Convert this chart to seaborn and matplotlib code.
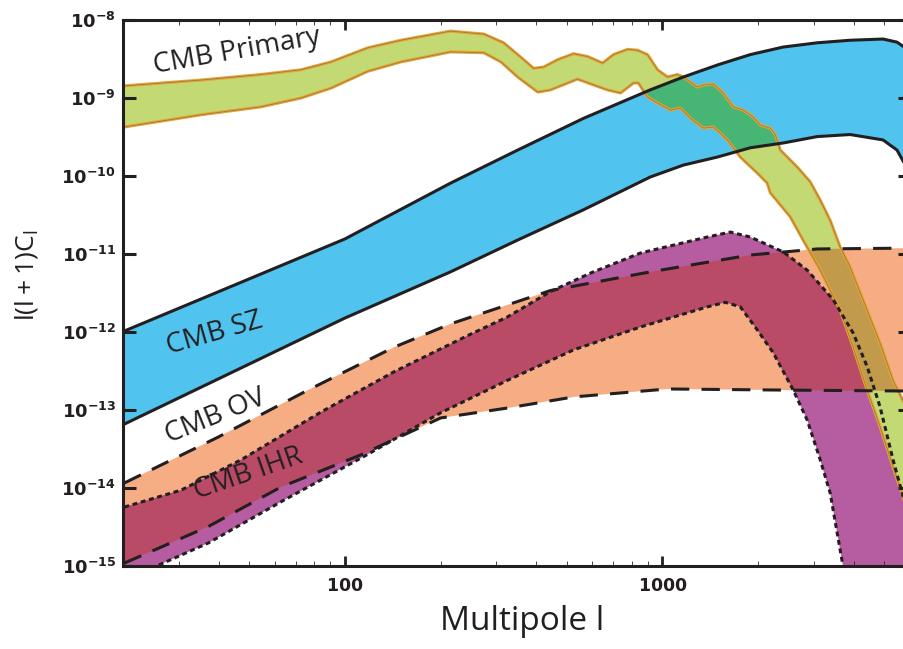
import matplotlib
matplotlib.use('Agg')
import matplotlib.pyplot as plt
from matplotlib.path import Path
from matplotlib.ticker import LogLocator, NullLocator, NullFormatter
import numpy as np
import seaborn as sns

# ---- data: multipole l and l(l+1)C_l ----

# CMB primary (green band), upper and lower edges
primary_l_hi = [20.2, 35.3, 54.4, 72.7, 90.4, 118, 150, 215, 274, 316, 350, 393, 423, 468,
                525, 581, 648, 701, 776, 834, 897, 965, 1037, 1115, 1164, 1289, 1346, 1447,
                1555, 1672, 1798, 1933, 2033, 2186, 2266, 2350, 2658, 2920, 3140, 3375, 3628,
                3901, 4413, 4848, 5325, 5768, 6248]
primary_hi = [1.43e-9, 1.7e-9, 2.0e-9, 2.3e-9, 2.9e-9, 4.4e-9, 5.5e-9, 7.2e-9, 6.6e-9, 5.1e-9,
              3.6e-9, 2.4e-9, 2.5e-9, 3.1e-9, 3.7e-9, 3.4e-9, 2.8e-9, 3.6e-9, 4.2e-9, 4.1e-9,
              3.6e-9, 2.3e-9, 1.86e-9, 2.0e-9, 1.86e-9, 1.38e-9, 1.47e-9, 1.51e-9, 1.16e-9,
              7.7e-10, 7.0e-10, 5.7e-10, 4.5e-10, 4.1e-10, 3.4e-10, 2.15e-10, 1.3e-10, 8.4e-11,
              4.9e-11, 2.7e-11, 1.23e-11, 6.8e-12, 1.9e-12, 7.2e-13, 2.4e-13, 1.23e-13, 6.2e-14]
primary_l_lo = [20.2, 35.3, 54.4, 72.7, 90.4, 118, 150, 215, 274, 310, 350, 405, 444, 540,
                607, 671, 738, 811, 840, 897, 965, 1060, 1139, 1225, 1346, 1447, 1601, 1759,
                1990, 2139, 2186, 2526, 2776, 3140, 3628, 3987, 4413, 4848, 5325, 5768, 6248]
primary_lo = [4.25e-10, 6.1e-10, 7.7e-10, 1.0e-9, 1.34e-9, 2.2e-9, 2.9e-9, 3.9e-9, 3.8e-9,
              2.9e-9, 1.86e-9, 1.19e-9, 1.27e-9, 1.75e-9, 1.47e-9, 1.27e-9, 1.16e-9, 1.56e-9,
              1.56e-9, 1.03e-9, 8.6e-10, 7.0e-10, 7.4e-10, 5.5e-10, 4.1e-10, 4.25e-10, 2.9e-10,
              1.75e-10, 1.09e-10, 8.1e-11, 6.1e-11, 3.0e-11, 1.5e-11, 6.2e-12, 1.9e-12, 6.4e-13,
              1.8e-13, 6.1e-14, 1.86e-14, 7.0e-15, 2.65e-15]

# CMB SZ (blue band)
sz_l = [20.2, 100, 215, 350, 565, 915, 1164, 1490, 1891, 2400, 3072, 3900, 4950, 5480, 5770,
        6000, 6250]
sz_hi = [1.03e-12, 1.56e-11, 8.1e-11, 2.15e-10, 5.5e-10, 1.27e-9, 1.86e-9, 2.65e-9, 3.6e-9,
         4.5e-9, 5.1e-9, 5.5e-9, 5.7e-9, 5.2e-9, 4.5e-9, 3.6e-9, 2.3e-9]
sz_lo = [6.6e-14, 1.51e-12, 5.9e-12, 1.51e-11, 3.7e-11, 9.7e-11, 1.38e-10, 1.75e-10, 2.3e-10,
         2.65e-10, 3.2e-10, 3.4e-10, 2.9e-10, 2.15e-10, 1.47e-10, 9.4e-11, 4.9e-11]

# CMB OV (salmon band, dashed edges)
ov_l_hi = [20.2, 39.9, 76.5, 143, 215, 444, 916, 1891, 3072, 5986, 6248]
ov_hi = [1.16e-14, 4.5e-14, 1.8e-13, 6.4e-13, 1.27e-12, 3.4e-12, 5.9e-12, 9.7e-12, 1.16e-11,
         1.19e-11, 1.19e-11]
ov_l_lo = [20.2, 37.1, 62.9, 112, 200, 325, 525, 1037, 2404, 5986, 6248]
ov_lo = [1.09e-15, 3.2e-15, 1.03e-14, 2.65e-14, 7.9e-14, 1.06e-13, 1.47e-13, 1.86e-13, 1.8e-13,
         1.75e-13, 1.75e-13]

# CMB IHR (purple band, dotted edges)
ihr_l_hi = [20.2, 30.5, 47.1, 84.0, 143, 249, 325, 444, 594, 853, 1385, 1636, 1891, 2404,
            2858, 3449, 3987, 4413, 4848, 5325, 5768, 6248, 6965]
ihr_hi = [5.7e-15, 9.4e-15, 2.3e-14, 9.4e-14, 3.1e-13, 9.4e-13, 1.56e-12, 3.3e-12, 5.7e-12,
          1.03e-11, 1.65e-11, 1.91e-11, 1.65e-11, 1.06e-11, 6.2e-12, 2.6e-12, 9.7e-13,
          3.6e-13, 1.09e-13, 2.3e-14, 7.0e-15, 1.86e-15, 2.0e-16]
ihr_l_lo = [20.2, 25.1, 37.1, 64.3, 116, 200, 325, 525, 853, 1385, 1578, 1759, 1990, 2234,
            2582, 2858, 3140, 3375, 3708, 3901]
ihr_lo = [4.9e-16, 9.7e-16, 1.97e-15, 7.0e-15, 2.6e-14, 9.2e-14, 2.4e-13, 5.9e-13, 1.16e-12,
          2.1e-12, 2.4e-12, 2.1e-12, 1.06e-12, 5.4e-13, 1.8e-13, 7.4e-14, 2.3e-14, 8.6e-15,
          9.7e-16, 3.7e-16]

band_names = ['CMB Primary', 'CMB SZ', 'CMB OV', 'CMB IHR']
x_ticks = [100, 1000]
x_ticklabels = [r'$\mathbf{100}$', r'$\mathbf{1000}$']
y_ticks = [1e-15, 1e-14, 1e-13, 1e-12, 1e-11, 1e-10, 1e-9, 1e-8]
y_ticklabels = [r'$\mathbf{10^{-15}}$', r'$\mathbf{10^{-14}}$', r'$\mathbf{10^{-13}}$',
                r'$\mathbf{10^{-12}}$', r'$\mathbf{10^{-11}}$', r'$\mathbf{10^{-10}}$',
                r'$\mathbf{10^{-9}}$', r'$\mathbf{10^{-8}}$']

# colours
INK = '#231F20'
GREEN = '#C3D974'
ORANGE = '#EEA22A'
BLUE = '#50C4EF'
SALMON = '#F6AD84'
PURPLE = '#B65CA0'
MAROON = '#B94B66'
DARKGREEN = '#47B574'
TAN = '#C19B4B'


def band_polygon(l_hi, hi, l_lo, lo):
    return list(l_hi) + list(l_lo)[::-1], list(hi) + list(lo)[::-1]


def edge(ax, x, y, **kw):
    sns.lineplot(x=x, y=y, ax=ax, sort=False, estimator=None, **kw)


def make_figure(tier=0):
    plt.rcdefaults()
    sns.set_style('ticks', {'xtick.direction': 'in', 'ytick.direction': 'in',
                            'xtick.top': True, 'ytick.right': True,
                            'axes.axisbelow': False})
    plt.rcParams['font.family'] = ['Open Sans', 'DejaVu Sans']
    plt.rcParams['mathtext.fontset'] = 'custom'
    plt.rcParams['mathtext.rm'] = 'Open Sans'
    plt.rcParams['mathtext.bf'] = 'DejaVu Sans:bold'
    plt.rcParams['xtick.major.size'] = 7
    plt.rcParams['xtick.minor.size'] = 3.5
    plt.rcParams['ytick.major.size'] = 9
    plt.rcParams['ytick.minor.size'] = 0

    fig = plt.figure(figsize=(9.04, 6.49), dpi=100)
    ax = fig.add_axes([0.1361, 0.1279, 0.870, 0.8413])
    ax.set_xscale('log')
    ax.set_yscale('log')

    ov_x, ov_y = band_polygon(ov_l_hi, ov_hi, ov_l_lo, ov_lo)
    ihr_x, ihr_y = band_polygon(ihr_l_hi, ihr_hi, ihr_l_lo, ihr_lo)
    sz_x, sz_y = band_polygon(sz_l, sz_hi, sz_l, sz_lo)
    pr_x, pr_y = band_polygon(primary_l_hi, primary_hi, primary_l_lo, primary_lo)

    ax.fill(ov_x, ov_y, color=SALMON, lw=0, zorder=1.0)
    ax.fill(ihr_x, ihr_y, color=PURPLE, lw=0, zorder=1.1)
    ax.fill(sz_x, sz_y, color=BLUE, lw=0, zorder=1.3)
    ax.fill(pr_x, pr_y, color=GREEN, lw=0, zorder=1.4)

    # overlaps: the same band again, clipped to the band underneath
    if tier < 2:
        ov_clip = Path(np.column_stack([ov_x, ov_y]))
        sz_clip = Path(np.column_stack([sz_x, sz_y]))
        both, = ax.fill(ihr_x, ihr_y, color=MAROON, lw=0, zorder=1.2)
        both.set_clip_path(ov_clip, ax.transData)
        g1, = ax.fill(pr_x, pr_y, color=DARKGREEN, lw=0, zorder=1.5)
        g1.set_clip_path(sz_clip, ax.transData)
        if tier < 1:
            g2, = ax.fill(pr_x, pr_y, color=TAN, lw=0, zorder=1.5)
            g2.set_clip_path(ov_clip, ax.transData)

    # edges
    for lx, ly in [(primary_l_hi, primary_hi), (primary_l_lo, primary_lo)]:
        edge(ax, lx, ly, color=ORANGE, lw=2.2, zorder=2.0)
        if tier < 1:
            edge(ax, lx, ly, color='#8C7F55', lw=0.6, zorder=2.05)
    for ly in (sz_hi, sz_lo):
        edge(ax, sz_l, ly, color=INK, lw=2.2, zorder=2.1)
    for lx, ly in [(ov_l_hi, ov_hi), (ov_l_lo, ov_lo)]:
        edge(ax, lx, ly, color=INK, lw=2.2, linestyle=(0, (6, 4)), zorder=2.2)
    for lx, ly in [(ihr_l_hi, ihr_hi), (ihr_l_lo, ihr_lo)]:
        edge(ax, lx, ly, color=INK, lw=2.2, linestyle=(0, (1.6, 1.2)), zorder=2.3)

    ax.set_xlim(20, 6000)
    ax.set_ylim(1e-15, 1e-8)

    # ticks
    ax.set_xticks(x_ticks, labels=x_ticklabels)
    ax.xaxis.set_minor_locator(LogLocator(base=10, subs=np.arange(2, 10)))
    ax.xaxis.set_minor_formatter(NullFormatter())
    ax.set_yticks(y_ticks, labels=y_ticklabels)
    ax.yaxis.set_minor_locator(NullLocator())
    ax.tick_params(axis='x', which='major', direction='in', length=7, width=2.0,
                   top=True, bottom=True, labelsize=12.5, pad=9, colors=INK)
    ax.tick_params(axis='y', which='major', direction='in', length=9, width=2.2,
                   left=True, right=True, labelsize=13, pad=5, colors=INK)
    for s in ax.spines.values():
        s.set_linewidth(2.2)
        s.set_color(INK)
    ax.xaxis.set_zorder(3)
    ax.yaxis.set_zorder(3)

    ax.set_xlabel('Multipole l', fontsize=24, color=INK)
    ax.xaxis.set_label_coords(0.508, -0.072)
    ax.set_ylabel(r'$\mathrm{l(l+1)C_l}$', fontsize=19, color=INK)
    ax.yaxis.set_label_coords(-0.106, 0.533)

    # band names, placed along the bands
    label_pos = [(0.145, 0.943, 10), (0.117, 0.425, 16), (0.117, 0.273, 22),
                 (0.159, 0.168, 19)]
    for name, (px, py, rot) in zip(band_names, label_pos):
        ax.text(px, py, name, transform=ax.transAxes, fontsize=20, color=INK,
                rotation=rot, rotation_mode='anchor', ha='center', va='center')
    return fig, ax


def ticks_drawn(fig, ax):
    # check that the inward tick marks at l=100 and 1e-10 really got painted
    fig.canvas.draw()
    buf = np.asarray(fig.canvas.buffer_rgba())
    h = buf.shape[0]
    x, y = ax.transData.transform((100, 1e-15))
    a = buf[int(round(h - y)) - 5, int(round(x))][:3]
    x2, y2 = ax.transData.transform((20, 1e-10))
    b = buf[int(round(h - y2)), int(round(x2)) + 5][:3]
    return a.max() < 120 and b.max() < 120


for tier in (0, 1, 2):
    fig, ax = make_figure(tier)
    if ticks_drawn(fig, ax) or tier == 2:
        break
    plt.close(fig)

fig.savefig('out.png', dpi=100)
